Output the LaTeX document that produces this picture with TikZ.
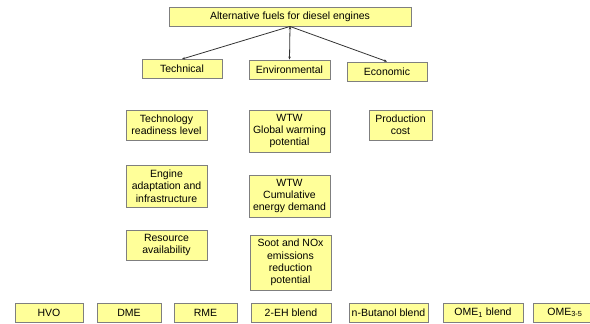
\documentclass[tikz,border=0pt]{standalone}
\usepackage{fontspec}
\setmainfont{Liberation Sans}
\usetikzlibrary{arrows.meta, positioning}
\definecolor{fuelyellow}{HTML}{FFFF99}
\definecolor{fuelgray}{HTML}{7F7F7F}

\begin{document}
\begin{tikzpicture}[x=1pt, y=-1pt,
    crit/.style={draw=fuelgray, line width=0.9pt, fill=fuelyellow, align=center,
                 inner sep=0pt, minimum height=19pt,
                 font=\fontsize{10.5}{12.3}\selectfont},
    branch/.style={-{Stealth[length=3pt, width=2.5pt]}, draw=black!80, line width=0.8pt}]
      \clip (0,0) rectangle (590,324);

      % goal and main criteria
      \node[crit, minimum width=242pt] (goal) at (290,16.5) {Alternative fuels for diesel engines};
      \node[crit, minimum width=80pt] (tech) at (182,69) {Technical};
      \node[crit, minimum width=81pt] (env) at (289.5,69.5) {Environmental};
      \node[crit, minimum width=80pt] (eco) at (387,71.5) {Economic};

      % sub-criteria
      \node[crit, minimum width=81pt, minimum height=30pt] (trl) at (166.5,125) {Technology\\readiness level};
      \node[crit, minimum width=81pt, minimum height=42pt] (adapt) at (166.5,186) {Engine\\adaptation and\\infrastructure};
      \node[crit, minimum width=81pt, minimum height=30pt] (res) at (166.5,245) {Resource\\availability};
      \node[crit, minimum width=81pt, minimum height=42pt] (gwp) at (289.5,131) {WTW\\Global warming\\potential};
      \node[crit, minimum width=81pt, minimum height=42pt] (ced) at (289.5,196) {WTW\\Cumulative\\energy demand};
      \node[crit, minimum width=81pt, minimum height=55pt] (soot) at (290.5,262.5) {Soot and NOx\\emissions\\reduction\\potential};
      \node[crit, minimum width=63pt, minimum height=30pt] (cost) at (400.5,125) {Production\\cost};

      % alternatives
      \node[crit, minimum width=68pt] (hvo) at (49,312.5) {HVO};
      \node[crit, minimum width=64pt] (dme) at (129,312.5) {DME};
      \node[crit, minimum width=63pt] (rme) at (205.5,312.5) {RME};
      \node[crit, minimum width=80pt] (eh) at (291,312.5) {2-EH blend};
      \node[crit, minimum width=79pt] (but) at (388.5,312.5) {n-Butanol blend};
      \node[crit, minimum width=80pt] (omeone) at (483,312.5) {OME\textsubscript{1} blend};
      \node[crit, minimum width=64pt] (omethree) at (565,312.5) {OME\textsubscript{3-5}};

      \path[branch] (goal.south) edge (tech.north)
                    (goal.south) edge (env.north)
                    (goal.south) edge (eco.north);
\end{tikzpicture}
\end{document}
